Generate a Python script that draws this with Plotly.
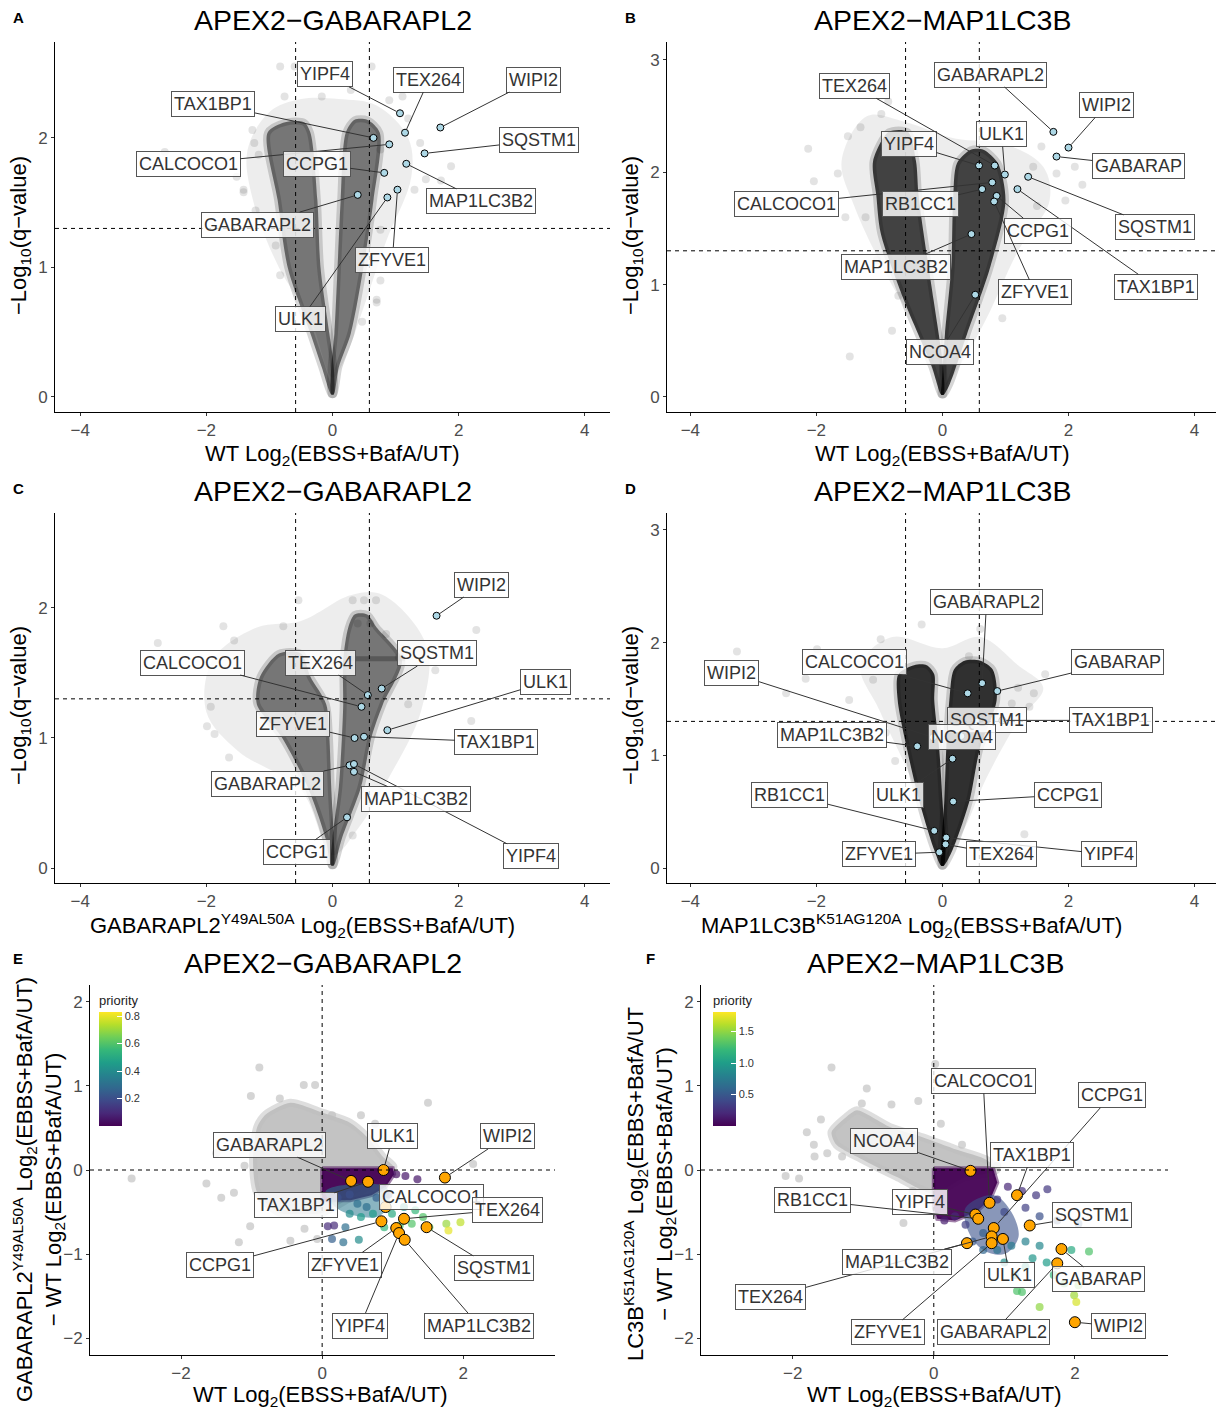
import plotly.graph_objects as go

W, H = 1216, 1412
FONT = "Liberation Sans, Arial, Helvetica, sans-serif"

# ---------------- Panel A : APEX2-GABARAPL2 (WT) ----------------
a_genes = ["YIPF4", "TEX264", "WIPI2", "TAX1BP1", "CALCOCO1", "SQSTM1", "MAP1LC3B2", "CCPG1", "ZFYVE1", "ULK1", "GABARAPL2"]
a_x = [1.07, 1.15, 1.71, 0.65, 0.90, 1.46, 1.17, 0.82, 1.03, 0.87, 0.40]
a_y = [2.19, 2.04, 2.08, 2.00, 1.95, 1.88, 1.80, 1.73, 1.60, 1.54, 1.56]
a_lab_x = [-0.12, 1.53, 3.19, -1.89, -2.29, 3.27, 2.36, -0.25, 0.95, -0.50, -1.19]
a_lab_y = [2.49, 2.45, 2.45, 2.26, 1.80, 1.98, 1.51, 1.80, 1.06, 0.60, 1.33]
a_left_y = [0.02, 0.23, 0.49, 1.00, 1.52, 2.04, 2.12]
a_left_outer = [-0.02, -0.17, -0.35, -0.71, -0.87, -1.03, -0.75]
a_left_inner = [0.02, 0.02, -0.05, -0.19, -0.24, -0.35, -0.45]
a_right_y = [0.02, 0.23, 0.49, 1.00, 1.52, 2.04, 2.14]
a_right_inner = [-0.02, -0.02, 0.03, 0.08, 0.13, 0.21, 0.35]
a_right_outer = [0.02, 0.10, 0.29, 0.49, 0.65, 0.75, 0.55]
a_halo_x = [0.0, -0.35, -0.85, -1.25, -1.35, -1.0, -0.5, 0.1, 0.7, 1.2, 1.25, 0.85, 0.5, 0.2]
a_halo_y = [0.15, 0.6, 1.0, 1.5, 1.9, 2.2, 2.3, 2.3, 2.25, 2.0, 1.7, 1.2, 0.7, 0.3]
a_bg_x = [-0.83, -0.60, 0.62, -0.76, -0.17, 1.11, -2.66, -1.52, -1.41, 1.88, 1.72, 0.70, 0.47, -1.24, 1.39, 0.90,
          0.29, -1.27, -1.17, -1.41, -1.22, 0.76, 1.48, 0.76, 0.70, 0.76, -0.90, -0.83, 1.20, 1.30]
a_bg_y = [2.55, 2.55, 2.55, 2.32, 2.32, 2.32, 1.89, 1.70, 1.58, 1.78, 1.67, 0.73, 0.58, 1.96, 1.96, 2.29,
          2.37, 2.06, 1.87, 1.60, 1.44, 1.91, 1.68, 0.90, 0.75, 1.29, 1.17, 0.94, 2.15, 1.60]

# ---------------- Panel B : APEX2-MAP1LC3B (WT) ----------------
b_genes = ["GABARAPL2", "WIPI2", "GABARAP", "YIPF4", "TEX264", "ULK1", "SQSTM1", "CALCOCO1", "RB1CC1", "TAX1BP1", "CCPG1", "ZFYVE1", "MAP1LC3B2", "NCOA4"]
b_x = [1.76, 2.00, 1.81, 0.58, 0.83, 0.99, 1.36, 0.79, 0.63, 1.19, 0.86, 0.82, 0.46, 0.52]
b_y = [2.36, 2.22, 2.14, 2.06, 2.06, 1.98, 1.96, 1.91, 1.85, 1.85, 1.79, 1.74, 1.45, 0.91]
b_lab_x = [0.77, 2.60, 3.11, -0.53, -1.40, 0.94, 3.37, -2.47, -0.35, 3.39, 1.52, 1.47, -0.73, -0.04]
b_lab_y = [2.87, 2.60, 2.06, 2.25, 2.77, 2.34, 1.51, 1.72, 1.72, 0.98, 1.48, 0.93, 1.16, 0.40]
b_left_y = [0.02, 0.27, 0.86, 1.46, 1.80, 2.10, 2.36]
b_left_outer = [-0.02, -0.17, -0.61, -0.98, -1.05, -1.10, -0.85]
b_left_inner = [0.02, 0.01, -0.14, -0.30, -0.38, -0.42, -0.55]
b_right_y = [0.02, 0.12, 0.56, 1.16, 1.75, 2.08, 2.20]
b_right_inner = [-0.02, -0.01, 0.04, 0.14, 0.17, 0.23, 0.45]
b_right_outer = [0.02, 0.12, 0.39, 0.76, 1.00, 0.88, 0.65]
b_halo_x = [0.0, -0.4, -0.9, -1.4, -1.6, -1.2, -0.6, 0.2, 1.0, 1.6, 1.7, 1.2, 0.7, 0.3]
b_halo_y = [0.1, 0.6, 1.1, 1.7, 2.1, 2.5, 2.45, 2.3, 2.25, 2.05, 1.75, 1.3, 0.7, 0.3]
b_bg_x = [-2.13, -2.04, -1.50, -0.86, -0.97, -1.66, -1.54, -1.22, -0.80, -1.47, 1.81, 2.22, 1.57, 1.44, -1.04,
          -1.30, -1.75, 1.95, 2.10, 1.50, -0.70, 0.95]
b_bg_y = [2.21, 1.92, 2.32, 2.63, 2.52, 1.99, 1.60, 1.60, 0.59, 0.36, 1.99, 1.89, 2.23, 2.05, 1.22,
          2.40, 1.80, 1.75, 2.05, 1.70, 0.90, 0.70]

# ---------------- Panel C : APEX2-GABARAPL2 (mutant) ----------------
c_genes = ["WIPI2", "SQSTM1", "TEX264", "CALCOCO1", "ULK1", "TAX1BP1", "ZFYVE1", "GABARAPL2", "YIPF4", "MAP1LC3B2", "CCPG1"]
c_x = [1.65, 0.78, 0.56, 0.46, 0.87, 0.50, 0.35, 0.27, 0.34, 0.34, 0.23]
c_y = [1.94, 1.38, 1.33, 1.24, 1.06, 1.01, 1.00, 0.79, 0.80, 0.74, 0.39]
c_lab_x = [2.37, 1.66, -0.19, -2.22, 3.38, 2.60, -0.62, -1.03, 3.15, 1.33, -0.56]
c_lab_y = [2.18, 1.65, 1.58, 1.58, 1.43, 0.97, 1.11, 0.65, 0.09, 0.53, 0.12]
c_left_y = [0.02, 0.23, 0.62, 1.01, 1.26, 1.47, 1.65]
c_left_outer = [-0.02, -0.11, -0.39, -0.81, -1.20, -1.15, -0.85]
c_left_inner = [0.02, 0.02, -0.02, -0.05, -0.10, -0.35, -0.50]
c_right_y = [0.02, 0.23, 0.62, 1.01, 1.26, 1.60, 1.85, 1.95]
c_right_inner = [-0.02, 0.0, 0.10, 0.15, 0.17, 0.17, 0.25, 0.35]
c_right_outer = [0.02, 0.15, 0.45, 0.62, 0.80, 1.10, 0.70, 0.55]
c_halo_x = [0.0, -0.5, -1.5, -2.0, -1.9, -1.2, -0.5, 0.3, 0.8, 1.5, 1.4, 0.9, 0.4]
c_halo_y = [0.1, 0.6, 0.9, 1.2, 1.6, 1.85, 1.9, 2.1, 2.1, 1.7, 1.2, 0.7, 0.3]
c_bg_x = [-2.77, -1.73, -1.56, -1.93, -1.99, -1.87, -1.64, -0.54, 0.32, 0.50, 0.69, 2.28, 2.20, 1.20, 1.63, 0.32, -0.78,
          0.40, 0.60, 0.85, 1.05]
c_bg_y = [1.73, 1.86, 1.75, 1.24, 1.09, 1.03, 0.85, 2.06, 2.06, 2.06, 2.06, 1.83, 1.13, 1.26, 1.52, 0.25, 1.86,
          1.88, 1.88, 1.80, 1.62]
c_band_x = [0.25, 1.15]
c_band_y = [1.61, 1.61]

# ---------------- Panel D : APEX2-MAP1LC3B (mutant) ----------------
d_genes = ["GABARAPL2", "GABARAP", "CALCOCO1", "WIPI2", "SQSTM1", "TAX1BP1", "MAP1LC3B2", "NCOA4", "ULK1", "CCPG1", "RB1CC1", "YIPF4", "TEX264", "ZFYVE1"]
d_x = [0.63, 0.87, 0.40, -0.15, 0.55, 0.95, -0.40, 0.30, 0.16, 0.17, -0.13, 0.06, 0.05, -0.05]
d_y = [1.64, 1.57, 1.55, 1.16, 1.30, 1.31, 1.08, 1.17, 0.97, 0.59, 0.33, 0.27, 0.21, 0.14]
d_lab_x = [0.70, 2.78, -1.40, -3.34, 0.70, 2.68, -1.76, 0.31, -0.69, 1.99, -2.42, 2.65, 0.94, -1.01]
d_lab_y = [2.36, 1.83, 1.83, 1.73, 1.31, 1.31, 1.18, 1.16, 0.65, 0.65, 0.65, 0.12, 0.12, 0.12]
d_left_y = [0.02, 0.16, 0.60, 1.05, 1.49, 1.72, 1.80]
d_left_outer = [-0.02, -0.13, -0.37, -0.56, -0.71, -0.70, -0.45]
d_left_inner = [0.02, 0.05, 0.0, -0.05, -0.13, -0.13, -0.25]
d_right_y = [0.02, 0.16, 0.60, 1.05, 1.49, 1.76, 1.84]
d_right_inner = [-0.02, -0.02, 0.03, 0.06, 0.11, 0.18, 0.35]
d_right_outer = [0.02, 0.16, 0.43, 0.59, 0.86, 0.80, 0.60]
d_halo_x = [0.0, -0.5, -1.0, -1.3, -0.8, 0.0, 0.6, 1.2, 1.6, 1.2, 0.7, 0.3]
d_halo_y = [0.1, 0.8, 1.4, 1.8, 2.05, 1.95, 2.05, 1.8, 1.6, 1.3, 0.8, 0.3]
d_bg_x = [-3.26, -2.48, -2.17, -1.99, -1.48, -1.10, -0.98, -0.33, -0.83, 0.60, 0.42, 1.63, 1.30, 1.38, 1.10,
          -0.90, -0.75, 1.20, 1.45, -1.20]
d_bg_y = [1.92, 1.55, 1.68, 1.94, 1.49, 1.67, 2.03, 2.16, 1.88, 2.12, 1.88, 1.72, 0.30, 1.43, 1.46,
          1.20, 0.95, 1.60, 1.55, 1.80]

# ---------------- Panel E : difference GABARAPL2 ----------------
e_genes = ["ULK1", "WIPI2", "GABARAPL2", "TAX1BP1", "CALCOCO1", "TEX264", "CCPG1", "ZFYVE1", "YIPF4", "MAP1LC3B2", "SQSTM1"]
e_x = [0.87, 1.74, 0.41, 0.65, 0.90, 1.16, 0.84, 1.05, 1.09, 1.17, 1.48]
e_y = [0.00, -0.09, -0.13, -0.14, -0.44, -0.58, -0.61, -0.69, -0.75, -0.83, -0.68]
e_lab_x = [1.00, 2.62, -0.75, -0.37, 1.55, 2.62, -1.45, 0.32, 0.54, 2.22, 2.43]
e_lab_y = [0.40, 0.40, 0.30, -0.42, -0.32, -0.47, -1.13, -1.13, -1.85, -1.85, -1.17]
eg_x = [-0.98, -0.92, -0.80, -0.45, 0.01, 0.40, 0.64, 0.87, 1.01, 0.90, 0.0, -0.30, -0.60, -0.92]
eg_y = [0.12, 0.51, 0.66, 0.80, 0.68, 0.56, 0.39, 0.15, 0.04, -0.05, -0.51, -0.52, -0.51, -0.27]
egs_x = [-2.70, -0.89, -1.01, -0.26, -0.10, 0.14, 1.50, 2.14, -1.64, -1.43, -1.02, -1.18, -0.45, -0.07, -0.25, -1.25,
         -1.50, -0.60, -1.15, -1.10, 0.55, 0.75]
egs_y = [-0.10, 1.22, 0.88, 1.01, 1.01, 0.65, 0.80, 0.07, -0.16, -0.33, -0.67, -0.86, -0.84, -0.82, -0.70, -0.27,
         0.20, 0.85, 0.35, 0.05, 0.65, 0.55]
ep_x = [0.0, 1.00, 1.02, 0.90, 0.70, 0.40, 0.0]
ep_y = [0.02, 0.02, -0.05, -0.20, -0.30, -0.36, -0.36]
eb_x = [0.05, 0.90, 0.95, 0.80, 0.50, 0.20]
eb_y = [-0.25, -0.20, -0.40, -0.55, -0.55, -0.45]
ec_x = [0.22, 0.39, 0.50, 0.63, 0.77, 0.94, 0.39, 0.55, 0.72, 0.99, 1.16, 1.32, 1.43, 1.76, 1.96, 1.79, 1.52, 1.27, 1.10, 0.88, 0.52, 0.30, 0.14, 0.08, 0.17, 0.33, 1.35, 1.18, 1.05]
ec_y = [-0.33, -0.29, -0.40, -0.44, -0.33, -0.29, -0.52, -0.56, -0.52, -0.52, -0.44, -0.48, -0.56, -0.64, -0.62, -0.72, -0.68, -0.64, -0.66, -0.68, -0.83, -0.86, -0.82, -0.67, -0.66, -0.68, -0.11, -0.07, -0.05]
ec_p = [0.2, 0.2, 0.3, 0.3, 0.25, 0.2, 0.4, 0.45, 0.45, 0.5, 0.45, 0.55, 0.6, 0.7, 0.75, 0.8, 0.65, 0.6, 0.6, 0.55, 0.4, 0.3, 0.25, 0.1, 0.1, 0.3, 0.05, 0.05, 0.03]

# ---------------- Panel F : difference MAP1LC3B ----------------
f_genes = ["NCOA4", "CCPG1", "CALCOCO1", "YIPF4", "RB1CC1", "SQSTM1", "TAX1BP1", "TEX264", "ULK1", "MAP1LC3B2", "ZFYVE1", "GABARAP", "GABARAPL2", "WIPI2"]
f_x = [0.52, 0.85, 0.79, 0.59, 0.63, 1.36, 1.18, 0.82, 0.98, 0.47, 0.82, 1.81, 1.75, 2.00]
f_y = [-0.01, -0.69, -0.39, -0.53, -0.58, -0.66, -0.30, -0.79, -0.82, -0.87, -0.87, -0.94, -1.11, -1.81]
f_lab_x = [-0.71, 2.52, 0.70, -0.19, -1.72, 2.24, 1.39, -2.31, 1.07, -0.52, -0.65, 2.34, 0.85, 2.62]
f_lab_y = [0.35, 0.89, 1.06, -0.38, -0.36, -0.54, 0.18, -1.51, -1.25, -1.09, -1.93, -1.30, -1.93, -1.86]
fg_x = [-1.45, -1.24, -1.09, -0.62, -0.16, 0.33, 0.75, 0.89, 0.40, 0.0, -0.53, -1.00, -1.38]
fg_y = [0.45, 0.63, 0.71, 0.51, 0.39, 0.24, 0.12, 0.0, -0.10, -0.28, -0.08, 0.12, 0.30]
fgs_x = [-1.45, -0.95, -0.22, 0.02, -1.69, -1.51, -1.30, -2.10, -1.91, -0.43, 0.40, 0.90, -1.02, -0.60, -1.80, -1.60, -1.70, -0.30, 0.10]
fgs_y = [1.22, 0.97, 0.82, 1.26, 0.16, 0.20, 0.16, -0.07, -0.10, -0.63, 0.30, 0.05, 0.79, 0.78, 0.45, 0.60, 0.30, -0.25, 0.55]
fp_x = [0.0, 0.84, 0.90, 0.80, 0.60, 0.30, 0.05, 0.0]
fp_y = [0.02, 0.02, -0.15, -0.35, -0.50, -0.60, -0.58, -0.45]
fb_x = [0.45, 0.85, 1.10, 1.20, 1.00, 0.70, 0.50]
fb_y = [-0.45, -0.30, -0.50, -0.80, -1.00, -0.95, -0.75]
fc_x = [1.05, 1.25, 1.45, 1.61, 1.30, 1.50, 1.75, 2.05, 0.30, 0.15, 0.45, 0.70, 0.90, 1.10, 1.30, 1.50, 1.60, 1.40, 0.70, 0.55, 1.00, 1.30, 1.15, 1.70, 2.20, 1.95, 1.18, 1.25, 1.50, 1.99, 2.02, 2.05, 1.85, 1.00, 0.90]
fc_y = [-0.20, -0.25, -0.30, -0.23, -0.45, -0.55, -0.60, -0.64, -0.55, -0.60, -0.65, -0.75, -0.95, -0.90, -0.85, -0.90, -1.10, -1.05, -0.95, -0.85, -1.10, -1.15, -1.25, -1.25, -0.97, -0.95, -1.44, -1.45, -1.63, -1.49, -1.57, -1.37, -1.35, -0.50, -0.35]
fc_p = [0.2, 0.25, 0.3, 0.3, 0.35, 0.45, 0.5, 0.55, 0.2, 0.15, 0.35, 0.55, 0.7, 0.75, 0.8, 0.85, 1.0, 0.95, 0.6, 0.5, 0.9, 1.0, 1.05, 1.2, 1.3, 1.1, 1.3, 1.3, 1.5, 1.55, 1.7, 1.45, 1.35, 0.4, 0.3]

# ---------------- layout geometry (pixels) ----------------
panels = [
    dict(letter="A", title="APEX2−GABARAPL2", px=(55, 610), py=(42, 412), xr=[-4.4, 4.4], yr=[-0.116, 2.74],
         xt=[-4, -2, 0, 2, 4], yt=[0, 1, 2], tx=333),
    dict(letter="B", title="APEX2−MAP1LC3B", px=(667, 1216), py=(42, 412), xr=[-4.37, 4.34], yr=[-0.134, 3.16],
         xt=[-4, -2, 0, 2, 4], yt=[0, 1, 2, 3], tx=943),
    dict(letter="C", title="APEX2−GABARAPL2", px=(55, 610), py=(513, 883), xr=[-4.4, 4.4], yr=[-0.115, 2.73],
         xt=[-4, -2, 0, 2, 4], yt=[0, 1, 2], tx=333),
    dict(letter="D", title="APEX2−MAP1LC3B", px=(667, 1216), py=(513, 883), xr=[-4.37, 4.34], yr=[-0.133, 3.15],
         xt=[-4, -2, 0, 2, 4], yt=[0, 1, 2, 3], tx=943),
    dict(letter="E", title="APEX2−GABARAPL2", px=(90, 555), py=(985, 1355), xr=[-3.29, 3.30], yr=[-2.2, 2.2],
         xt=[-2, 0, 2], yt=[-2, -1, 0, 1, 2], tx=323),
    dict(letter="F", title="APEX2−MAP1LC3B", px=(701, 1168), py=(985, 1355), xr=[-3.30, 3.32], yr=[-2.2, 2.2],
         xt=[-2, 0, 2], yt=[-2, -1, 0, 1, 2], tx=935),
]

fig = go.Figure()
layout = dict(width=W, height=H, margin=dict(l=0, r=0, t=0, b=0), plot_bgcolor="white",
              paper_bgcolor="white", showlegend=False, font=dict(family=FONT, color="#222"))
annotations = []
shapes = []


def ax_names(i):
    s = "" if i == 1 else str(i)
    return "x" + s, "y" + s, "xaxis" + s, "yaxis" + s


for i, p in enumerate(panels, 1):
    xr_, yr_, xk, yk = ax_names(i)
    common = dict(showline=True, linecolor="black", linewidth=1, ticks="outside", ticklen=3,
                  tickcolor="#333", showgrid=False, zeroline=False, tickfont=dict(size=17, color="#4D4D4D"))
    layout[xk] = dict(domain=[p["px"][0] / W, p["px"][1] / W], range=p["xr"], anchor=yr_, tickvals=p["xt"],
                      **common)
    layout[yk] = dict(domain=[1 - p["py"][1] / H, 1 - p["py"][0] / H], range=p["yr"], anchor=xr_,
                      tickvals=p["yt"], **common)
    annotations.append(dict(text=p["title"], x=p["tx"] / W, y=1 - (p["py"][0] - 22) / H, xref="paper",
                            yref="paper", showarrow=False, font=dict(size=28.5, color="black"),
                            xanchor="center", yanchor="middle"))

# panel letters
for letter, lx, ly in [("A", 18, 18), ("B", 630, 18), ("C", 18, 488), ("D", 630, 488), ("E", 18, 958), ("F", 650, 958)]:
    annotations.append(dict(text="<b>" + letter + "</b>", x=lx / W, y=1 - ly / H, xref="paper", yref="paper",
                            showarrow=False, font=dict(size=15, color="black"), xanchor="center", yanchor="middle"))

# axis titles
XT_WT = "WT Log<sub>2</sub>(EBSS+BafA/UT)"
YT_Q = "−Log<sub>10</sub>(q−value)"
axis_titles = [
    (XT_WT, 332, 455, 0), (YT_Q, 20, 236, -90),
    (XT_WT, 943, 455, 0), (YT_Q, 632, 236, -90),
    ("GABARAPL2<sup>Y49AL50A</sup> Log<sub>2</sub>(EBSS+BafA/UT)", 302, 925, 0), (YT_Q, 20, 706, -90),
    ("MAP1LC3B<sup>K51AG120A</sup> Log<sub>2</sub>(EBSS+BafA/UT)", 911, 925, 0), (YT_Q, 632, 706, -90),
    (XT_WT, 320, 1396, 0),
    ("GABARAPL2<sup>Y49AL50A</sup> Log<sub>2</sub>(EBBS+BafA/UT)<br>− WT Log<sub>2</sub>(EBBS+BafA/UT)", 38, 1190, -90),
    (XT_WT, 934, 1396, 0),
    ("LC3B<sup>K51AG120A</sup> Log<sub>2</sub>(EBBS+BafA/UT<br>− WT Log<sub>2</sub>(EBBS+BafA/UT)", 649, 1184, -90),
]
for txt, tx, ty, ang in axis_titles:
    annotations.append(dict(text=txt, x=tx / W, y=1 - ty / H, xref="paper", yref="paper", showarrow=False,
                            textangle=ang, font=dict(size=22, color="black"), xanchor="center", yanchor="middle"))

# ---------------- volcano panels ----------------
volc = [
    (1, a_genes, a_x, a_y, a_lab_x, a_lab_y, a_left_y, a_left_outer, a_left_inner, a_right_y, a_right_inner,
     a_right_outer, a_halo_x, a_halo_y, a_bg_x, a_bg_y, 0.50),
    (2, b_genes, b_x, b_y, b_lab_x, b_lab_y, b_left_y, b_left_outer, b_left_inner, b_right_y, b_right_inner,
     b_right_outer, b_halo_x, b_halo_y, b_bg_x, b_bg_y, 0.72),
    (3, c_genes, c_x, c_y, c_lab_x, c_lab_y, c_left_y, c_left_outer, c_left_inner, c_right_y, c_right_inner,
     c_right_outer, c_halo_x, c_halo_y, c_bg_x, c_bg_y, 0.50),
    (4, d_genes, d_x, d_y, d_lab_x, d_lab_y, d_left_y, d_left_outer, d_left_inner, d_right_y, d_right_inner,
     d_right_outer, d_halo_x, d_halo_y, d_bg_x, d_bg_y, 0.80),
]


def label_annot(xa, ya, x, y, lx, ly, txt, standoff):
    return dict(text=txt, x=x, y=y, ax=lx, ay=ly, xref=xa, yref=ya, axref=xa, ayref=ya, showarrow=True,
                arrowhead=0, arrowwidth=1, arrowcolor="#333", standoff=standoff,
                bgcolor="rgba(255,255,255,0.82)", bordercolor="#555", borderwidth=1, borderpad=2,
                font=dict(size=18, color="#333"))


for (i, genes, gx, gy, lx, ly, ly_, lo, li, ry, ri, ro, hx, hy, bx, by, alpha) in volc:
    xa, ya, _, _ = ax_names(i)
    fig.add_trace(go.Scatter(x=hx + [hx[0]], y=hy + [hy[0]], xaxis=xa, yaxis=ya, mode="lines", fill="toself",
                             fillcolor="rgba(0,0,0,0.07)", line=dict(width=0, shape="spline"), hoverinfo="skip"))
    fig.add_trace(go.Scatter(x=bx, y=by, xaxis=xa, yaxis=ya, mode="markers",
                             marker=dict(size=8, color="rgba(0,0,0,0.11)"), hoverinfo="skip"))
    for ys, xo, xi in [(ly_, lo, li), (ry, ro, ri)]:
        fig.add_trace(go.Scatter(x=xo + xi[::-1] + [xo[0]], y=ys + ys[::-1] + [ys[0]], xaxis=xa, yaxis=ya,
                                 mode="lines", fill="toself", fillcolor="rgba(0,0,0,%.2f)" % alpha,
                                 line=dict(width=7, color="rgba(0,0,0,0.16)", shape="spline", smoothing=0.8),
                                 hoverinfo="skip"))
    if i == 3:
        fig.add_trace(go.Scatter(x=c_band_x, y=c_band_y, xaxis=xa, yaxis=ya, mode="lines",
                                 line=dict(width=5, color="rgba(0,0,0,0.25)"), hoverinfo="skip"))
    fig.add_trace(go.Scatter(x=gx, y=gy, xaxis=xa, yaxis=ya, mode="markers", text=genes,
                             marker=dict(size=7, color="#ADD8E6", line=dict(color="black", width=1))))
    for k in range(len(genes)):
        annotations.append(label_annot(xa, ya, gx[k], gy[k], lx[k], ly[k], genes[k], 4))
    for xv in (-0.585, 0.585):
        shapes.append(dict(type="line", xref=xa, yref=ya + " domain", x0=xv, x1=xv, y0=0, y1=1,
                           line=dict(color="black", width=1, dash="4px,4px")))
    shapes.append(dict(type="line", xref=xa + " domain", yref=ya, x0=0, x1=1, y0=1.301, y1=1.301,
                       line=dict(color="black", width=1, dash="4px,4px")))

# ---------------- difference panels ----------------
diff = [
    (5, e_genes, e_x, e_y, e_lab_x, e_lab_y, eg_x, eg_y, egs_x, egs_y, ep_x, ep_y, eb_x, eb_y, ec_x, ec_y, ec_p,
     "coloraxis", "rgba(42,120,142,0.55)"),
    (6, f_genes, f_x, f_y, f_lab_x, f_lab_y, fg_x, fg_y, fgs_x, fgs_y, fp_x, fp_y, fb_x, fb_y, fc_x, fc_y, fc_p,
     "coloraxis2", "rgba(59,82,139,0.6)"),
]
for (i, genes, gx, gy, lx, ly, gxp, gyp, sx, sy, px_, py_, bx_, by_, cx_, cy_, cp_, cax, bcol) in diff:
    xa, ya, _, _ = ax_names(i)
    fig.add_trace(go.Scatter(x=gxp + [gxp[0]], y=gyp + [gyp[0]], xaxis=xa, yaxis=ya, mode="lines", fill="toself",
                             fillcolor="rgba(190,190,190,0.92)",
                             line=dict(width=8, color="rgba(190,190,190,0.5)", shape="spline", smoothing=0.7),
                             hoverinfo="skip"))
    fig.add_trace(go.Scatter(x=sx, y=sy, xaxis=xa, yaxis=ya, mode="markers",
                             marker=dict(size=8, color="rgba(190,190,190,0.65)"), hoverinfo="skip"))
    fig.add_trace(go.Scatter(x=px_ + [px_[0]], y=py_ + [py_[0]], xaxis=xa, yaxis=ya, mode="lines", fill="toself",
                             fillcolor="rgba(68,1,84,0.95)", line=dict(width=4, color="rgba(68,1,84,0.5)"),
                             hoverinfo="skip"))
    fig.add_trace(go.Scatter(x=bx_ + [bx_[0]], y=by_ + [by_[0]], xaxis=xa, yaxis=ya, mode="lines", fill="toself",
                             fillcolor=bcol, line=dict(width=0, shape="spline"),
                             hoverinfo="skip"))
    fig.add_trace(go.Scatter(x=cx_, y=cy_, xaxis=xa, yaxis=ya, mode="markers",
                             marker=dict(size=8, color=cp_, coloraxis=cax, opacity=0.7), hoverinfo="skip"))
    fig.add_trace(go.Scatter(x=gx, y=gy, xaxis=xa, yaxis=ya, mode="markers", text=genes,
                             marker=dict(size=11, color="#FFA500", line=dict(color="black", width=1))))
    for k in range(len(genes)):
        annotations.append(label_annot(xa, ya, gx[k], gy[k], lx[k], ly[k], genes[k], 6))
    shapes.append(dict(type="line", xref=xa, yref=ya + " domain", x0=0, x1=0, y0=0, y1=1,
                       line=dict(color="black", width=1, dash="4px,4px")))
    shapes.append(dict(type="line", xref=xa + " domain", yref=ya, x0=0, x1=1, y0=0, y1=0,
                       line=dict(color="black", width=1, dash="4px,4px")))


def cbar(xpix, tickvals, ticktext):
    return dict(x=xpix / W, xanchor="left", y=1 - 992 / H, yanchor="top", len=134, lenmode="pixels",
                thickness=23, thicknessmode="pixels", xpad=0, ypad=0, outlinewidth=0,
                title=dict(text="priority", side="top", font=dict(size=13, color="#222")),
                tickvals=tickvals, ticktext=ticktext, tickfont=dict(size=11, color="#333"),
                ticks="inside", tickcolor="white", ticklen=5)


layout["coloraxis"] = dict(colorscale="Viridis", cmin=0.0, cmax=0.83,
                           colorbar=cbar(99, [0.2, 0.4, 0.6, 0.8], ["0.2", "0.4", "0.6", "0.8"]))
layout["coloraxis2"] = dict(colorscale="Viridis", cmin=0.0, cmax=1.81,
                            colorbar=cbar(713, [0.5, 1.0, 1.5], ["0.5", "1.0", "1.5"]))

layout["annotations"] = annotations
layout["shapes"] = shapes
fig.update_layout(**layout)
fig.write_html("out.html")
